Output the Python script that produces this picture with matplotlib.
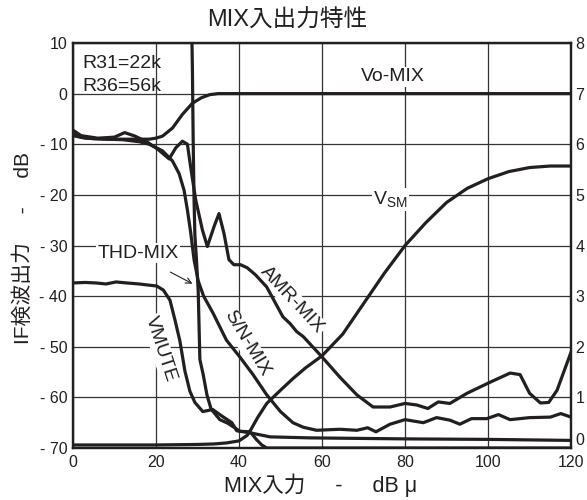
import matplotlib
matplotlib.use("Agg")
import matplotlib.pyplot as plt

plt.rcParams["font.family"] = ["Liberation Sans", "Noto Sans CJK JP"]
plt.rcParams["axes.unicode_minus"] = False

# ---- data: left axis (dB) ----
vo_x = [0, 2, 5, 10, 15, 18.4, 20, 21.6, 24, 26.4, 28.8, 31, 33, 35, 120]
vo_db = [-7.8, -8.6, -8.9, -9.0, -9.0, -9.0, -8.8, -8.4, -6.8, -4.1, -1.9, -0.8, -0.2, 0, 0]

sn_x = [0, 3, 8, 12, 16, 18.4, 21.6, 24, 25.6, 26.8, 27.6, 28.4, 29.2, 30.2, 31.5,
        33.8, 37, 40.2, 43.4, 46.7, 50, 53, 55.5, 58.7, 64.3, 68.4, 71, 73, 76.4,
        80, 84.4, 87.6, 90.8, 93.2, 96, 99.7, 102.5, 105.3, 110, 115, 117.5, 120]
sn_db = [-8.3, -8.8, -9.0, -9.1, -9.5, -10.0, -11.3, -13.3, -15.8, -19.1, -23, -27.5,
         -32.8, -37, -40, -43.4, -48.7, -52, -55.5, -59.5, -62.8, -65, -65.9, -66.5,
         -66.3, -66.5, -66, -66.8, -65.3, -64.4, -65, -64, -64.5, -65.3, -64.2, -64.2,
         -63.4, -64.4, -64, -63.9, -63.2, -63.9]

amr_x = [0, 2, 6, 10, 12.5, 15, 18, 20.5, 23.2, 24.8, 26.4, 27.6, 28.4, 29.6, 31.2,
         32.4, 34, 35.2, 36.4, 37.6, 38.8, 40.4, 42, 44, 46.7, 50.6, 52.3, 53.9, 55.5,
         60, 64.3, 68.4, 72.3, 76.4, 80, 82.8, 85.5, 88, 90.8, 94.9, 100.5, 105.3,
         107.7, 110, 112.6, 114.6, 116.6, 120]
amr_db = [-7.2, -8.3, -8.8, -8.6, -7.7, -8.4, -9.6, -11, -12.9, -10.7, -9.4, -10,
          -14.6, -21, -26.9, -30.2, -26.3, -23.7, -27.6, -32.8, -33.8, -33.8, -34.4,
          -35.8, -38.2, -44.1, -45.4, -47, -48, -52, -56, -59.5, -61.9, -61.9, -61.2,
          -61.5, -62.2, -60.9, -61.2, -59.2, -57, -55.2, -55.5, -59.2, -61.1, -61,
          -58.6, -51]

# ---- data: right axis ----
vmute_x = [0, 3, 5.6, 8, 10.4, 13, 16, 18, 20.2, 21.8, 23.4, 24.6, 25.8, 27, 28.2,
           29.4, 31.3, 33.7, 36.1, 38.3, 39.5, 42.7, 47.5, 57, 80, 100, 120]
vmute_v = [3.26, 3.27, 3.26, 3.24, 3.28, 3.26, 3.24, 3.22, 3.20, 3.12, 2.92, 2.53,
           2.11, 1.52, 1.12, 0.90, 0.72, 0.76, 0.62, 0.50, 0.34, 0.30, 0.22, 0.20,
           0.18, 0.17, 0.15]

vsm_x = [0, 10, 20, 30, 34, 37, 40, 42, 43, 44.5, 46.7, 50, 53, 56, 60, 65, 70, 75,
         80, 85, 90, 95, 100, 105, 110, 115, 120]
vsm_v = [0.06, 0.06, 0.06, 0.07, 0.08, 0.10, 0.14, 0.25, 0.38, 0.60, 0.88, 1.14,
         1.37, 1.58, 1.82, 2.25, 2.85, 3.45, 4.00, 4.45, 4.85, 5.13, 5.32, 5.46,
         5.54, 5.57, 5.57]

thd_x = [28.5, 28.8, 29.0, 29.2, 29.4, 29.8, 30.2, 30.6, 31.4, 32.3, 33.3, 35.4,
         37.3, 39, 40.2, 42.7, 44.3, 45.5, 46.7, 120]
thd_v = [9.0, 7.5, 6.0, 4.9, 4.2, 3.7, 3.1, 1.75, 1.45, 1.05, 0.77, 0.56, 0.49,
         0.40, 0.33, 0.32, 0.16, 0.06, 0.0, 0.0]

x_ticks = [0, 20, 40, 60, 80, 100, 120]
left_ticks = [10, 0, -10, -20, -30, -40, -50, -60, -70]
left_labels = ["10", "0", "- 10", "- 20", "- 30", "- 40", "- 50", "- 60", "- 70"]
right_ticks = [0, 1, 2, 3, 4, 5, 6, 7, 8]

fig = plt.figure(figsize=(5.87, 5.0), dpi=100)
ax = fig.add_axes([0.124, 0.104, 0.849, 0.81])
ax2 = ax.twinx()

lw = 2.3
line_kw = dict(color="#231f20", linewidth=lw, solid_joinstyle="round",
               solid_capstyle="round", zorder=3)

ax.plot(vo_x, vo_db, **line_kw)
ax.plot(sn_x, sn_db, **line_kw)
ax.plot(amr_x, amr_db, **line_kw)
ax2.plot(vmute_x, vmute_v, **line_kw)
ax2.plot(vsm_x, vsm_v, **line_kw)
ax2.plot(thd_x, thd_v, **line_kw)

ax.set_xlim(0, 120)
ax.set_ylim(-70, 10)
ax2.set_ylim(0, 8)

ax.set_xticks(x_ticks)
ax.set_yticks(left_ticks)
ax.set_yticklabels(left_labels)
ax2.set_yticks(right_ticks)

ax.grid(True, color="#333333", linewidth=0.9, zorder=0)
ax.set_axisbelow(True)
ax.tick_params(length=0, labelsize=11.5, pad=4, colors="#231f20")
ax.tick_params(axis="x", pad=5)
ax2.tick_params(length=0, labelsize=11.5, pad=3, colors="#231f20")
for a in (ax, ax2):
    for spine in a.spines.values():
        spine.set_linewidth(1.6)
        spine.set_color("#231f20")

# right "0" sits a little above the bottom line, clear of the "120"
fig.canvas.draw()
for lab in ax2.get_yticklabels():
    if lab.get_text() == "0":
        lab.set_va("bottom")

# ---- annotations ----
txt_kw = dict(fontsize=14, color="#231f20", zorder=2.5)
box = dict(facecolor="white", edgecolor="none", pad=1.0)

ax.text(2.4, 6.0, "R31=22k", va="center", ha="left", **txt_kw)
ax.text(2.4, 1.4, "R36=56k", va="center", ha="left", **txt_kw)
ax.text(77, 3.3, "Vo-MIX", va="center", ha="center", bbox=box, **txt_kw)
ax.text(76.5, -21, r"V$_{\mathregular{SM}}$", va="center", ha="center", bbox=box, **txt_kw)
ax.text(15.7, -31.5, "THD-MIX", va="center", ha="center", bbox=box, **txt_kw)
ax.text(52.8, -40.8, "AMR-MIX", va="center", ha="center", rotation=-47,
        rotation_mode="anchor", bbox=box, **txt_kw)
ax.text(41.9, -49.3, "S/N-MIX", va="center", ha="center", rotation=-59,
        rotation_mode="anchor", bbox=box, **txt_kw)
ax.text(21.2, -50.5, "VMUTE", va="center", ha="center", rotation=-72,
        rotation_mode="anchor", bbox=box, **txt_kw)
ax.annotate("", xy=(29.4, -37.8), xytext=(22.9, -35.0),
            arrowprops=dict(arrowstyle="->", color="#231f20", lw=0.8), zorder=2.5)

fig.text(287 / 587, 1 - 21 / 500, "MIX入出力特性", ha="center", va="center",
         fontsize=17, color="#231f20")
fig.text(321 / 587, 1 - 485 / 500, "MIX入力     -     dB μ", ha="center", va="center",
         fontsize=15.5, color="#231f20")
fig.text(23 / 587, 0.504, "IF検波出力     -     dB", ha="center", va="center",
         rotation=90, fontsize=15, color="#231f20")

fig.savefig("out.png", dpi=100, facecolor="white")
